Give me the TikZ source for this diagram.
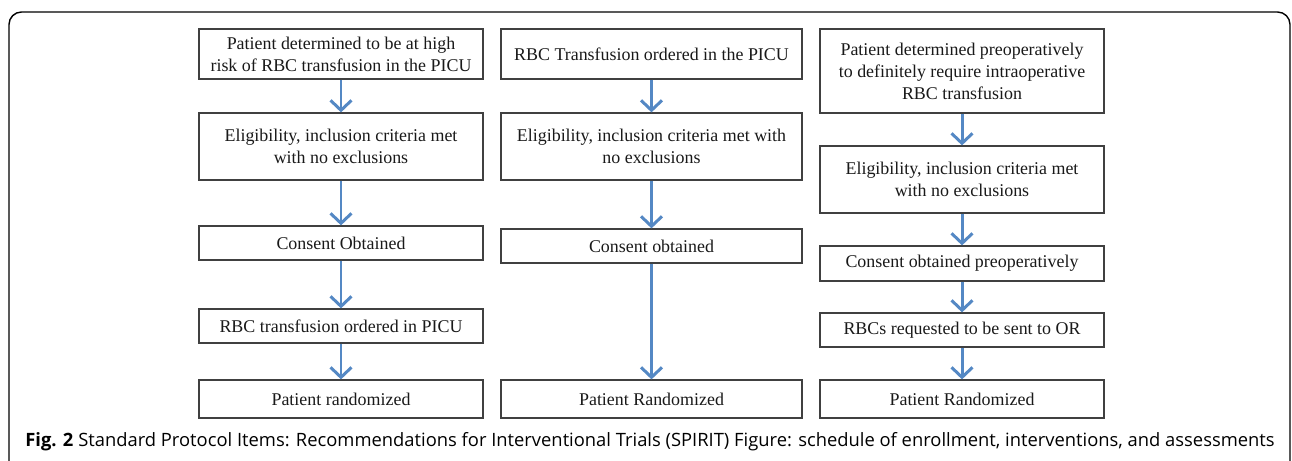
\documentclass[tikz,border=0pt]{standalone}
\usepackage{fontspec}
\setmainfont{Liberation Serif}
\newfontfamily\capfont{Open Sans}
\usetikzlibrary{arrows.meta}
\definecolor{arrowblue}{RGB}{84,136,196}

\begin{document}
\begin{tikzpicture}
		\tikzstyle{stage}=[draw=black!75,line width=0.7pt,align=center,inner sep=2pt,font=\fontsize{10.2}{12.5}\selectfont,text=black!90]
		\tikzstyle{flow}=[draw=arrowblue,line width=1.7pt,-{Straight Barb[length=2mm,width=4.2mm,line width=1.7pt]}]
		\useasboundingbox (0,0) rectangle (25.84,-9.22);
		\draw[line width=0.8pt,rounded corners=0.25cm] (0.18,-9.8) -- (0.18,-0.24) -- (25.8,-0.24) -- (25.8,-9.8);
		
		% left column
		\node[stage,minimum width=5.68cm,minimum height=1.0cm](a-1) at (6.82,-1.08){Patient determined to be at high\\risk of RBC transfusion in the PICU};
		\node[stage,minimum width=5.68cm,minimum height=1.34cm](a-2) at (6.82,-2.93){Eligibility, inclusion criteria met\\with no exclusions};
		\node[stage,minimum width=5.68cm,minimum height=0.68cm](a-3) at (6.82,-4.86){Consent Obtained};
		\node[stage,minimum width=5.68cm,minimum height=0.68cm](a-4) at (6.82,-6.52){RBC transfusion ordered in PICU};
		\node[stage,minimum width=5.68cm,minimum height=0.76cm](a-5) at (6.82,-7.98){Patient randomized};
		
		% middle column
		\node[stage,minimum width=6.02cm,minimum height=1.0cm](b-1) at (13.03,-1.08){RBC Transfusion ordered in the PICU};
		\node[stage,minimum width=6.02cm,minimum height=1.34cm](b-2) at (13.03,-2.93){Eligibility, inclusion criteria met with\\no exclusions};
		\node[stage,minimum width=6.02cm,minimum height=0.68cm](b-3) at (13.03,-4.92){Consent obtained};
		\node[stage,minimum width=6.02cm,minimum height=0.76cm](b-5) at (13.03,-7.98){Patient Randomized};
		
		% right column
		\node[stage,minimum width=5.68cm,minimum height=1.68cm](c-1) at (19.24,-1.42){Patient determined preoperatively\\to definitely require intraoperative\\RBC transfusion};
		\node[stage,minimum width=5.68cm,minimum height=1.34cm](c-2) at (19.24,-3.59){Eligibility, inclusion criteria met\\with no exclusions};
		\node[stage,minimum width=5.68cm,minimum height=0.70cm](c-3) at (19.24,-5.27){Consent obtained preoperatively};
		\node[stage,minimum width=5.68cm,minimum height=0.68cm](c-4) at (19.24,-6.60){RBCs requested to be sent to OR};
		\node[stage,minimum width=5.68cm,minimum height=0.76cm](c-5) at (19.24,-7.98){Patient Randomized};
		
		\foreach \y [count=\n from 2] in {1,...,4}
		\path[flow] (a-\y) edge (a-\n) (c-\y) edge (c-\n);
		\path[flow] (b-1) edge (b-2)
		(b-2) edge (b-3)
		(b-3) edge (b-5);
		
		\node[anchor=west,inner sep=0pt,font=\capfont\fontsize{10.45}{12}\selectfont](caption) at (0.5,-8.84){\textbf{Fig. 2} Standard Protocol Items: Recommendations for Interventional Trials (SPIRIT) Figure: schedule of enrollment, interventions, and assessments};
		\end{tikzpicture}
\end{document}
